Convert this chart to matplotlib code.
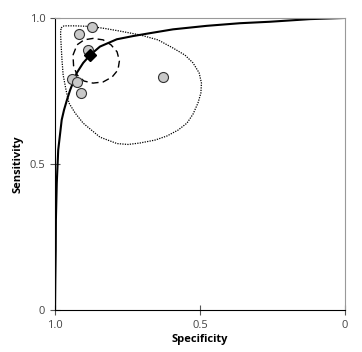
import matplotlib
matplotlib.use("Agg")
import matplotlib.pyplot as plt

plt.rcParams['font.family'] = ['Open Sans', 'DejaVu Sans']

# study estimates (specificity, sensitivity)
study_spec = [0.871, 0.916, 0.885, 0.942, 0.925, 0.911, 0.627]
study_sens = [0.970, 0.944, 0.890, 0.791, 0.782, 0.742, 0.799]

# summary point
summary_spec = 0.879
summary_sens = 0.873

# SROC curve
curve_spec = [1.0, 0.999, 0.9976, 0.997, 0.994, 0.989, 0.977, 0.969, 0.959,
              0.948, 0.925, 0.903, 0.879, 0.845, 0.787, 0.731, 0.672, 0.593,
              0.477, 0.362, 0.259, 0.121, 0.0]
curve_sens = [0.0, 0.103, 0.205, 0.308, 0.435, 0.548, 0.651, 0.685, 0.719,
              0.753, 0.812, 0.846, 0.873, 0.902, 0.927, 0.938, 0.948, 0.961,
              0.973, 0.982, 0.987, 0.996, 1.0]

# 95% confidence region
conf_spec = [0.938, 0.924, 0.900, 0.869, 0.834, 0.807, 0.786, 0.778, 0.783,
             0.803, 0.834, 0.869, 0.900, 0.924, 0.936, 0.938]
conf_sens = [0.873, 0.908, 0.925, 0.930, 0.925, 0.908, 0.884, 0.853, 0.822,
             0.798, 0.781, 0.777, 0.784, 0.805, 0.836, 0.873]

# 95% prediction region
pred_spec = [0.979, 0.969, 0.931, 0.879, 0.828, 0.776, 0.707, 0.645, 0.593,
             0.552, 0.524, 0.503, 0.495, 0.497, 0.507, 0.524, 0.545, 0.576,
             0.614, 0.655, 0.707, 0.748, 0.786, 0.845, 0.879, 0.903, 0.931,
             0.952, 0.962, 0.972, 0.976, 0.979, 0.981, 0.979]
pred_sens = [0.966, 0.973, 0.973, 0.971, 0.964, 0.955, 0.942, 0.925, 0.897,
             0.873, 0.846, 0.812, 0.777, 0.743, 0.709, 0.671, 0.640, 0.616,
             0.596, 0.582, 0.572, 0.567, 0.570, 0.592, 0.620, 0.640, 0.675,
             0.709, 0.753, 0.805, 0.856, 0.908, 0.949, 0.966]

fig = plt.figure(figsize=(3.62, 3.52), dpi=100)
ax = fig.add_axes([0.152, 0.119, 0.801, 0.830])

ax.plot(pred_spec, pred_sens, color='black', lw=0.9, ls=(0, (1, 1)))
ax.plot(conf_spec, conf_sens, color='black', lw=1.0, ls=(0, (5, 3)))
ax.plot(curve_spec, curve_sens, color='black', lw=1.5)
ax.plot(study_spec, study_sens, 'o', ms=7.2, mfc='#c8c8c8', mec='#333333', mew=0.8)
ax.plot([summary_spec], [summary_sens], 'D', ms=6, color='black')

ax.set_xlim(1, 0)
ax.set_ylim(0, 1)
ax.set_xticks([1.0, 0.5, 0])
ax.set_xticklabels(['1.0', '0.5', '0'])
ax.set_yticks([0, 0.5, 1.0])
ax.set_yticklabels(['0', '0.5', '1.0'])
ax.tick_params(direction='inout', length=7, width=0.8, labelsize=8,
               labelcolor='#444444', color='#555555')
ax.spines['top'].set_color('#999999')
ax.spines['right'].set_color('#999999')
for s in ['left', 'bottom']:
    ax.spines[s].set_color('black')
ax.set_xlabel('Specificity', fontsize=8, fontweight='bold', labelpad=2)
ax.set_ylabel('Sensitivity', fontsize=8, fontweight='bold', labelpad=4)

fig.savefig('out.png', dpi=100)
